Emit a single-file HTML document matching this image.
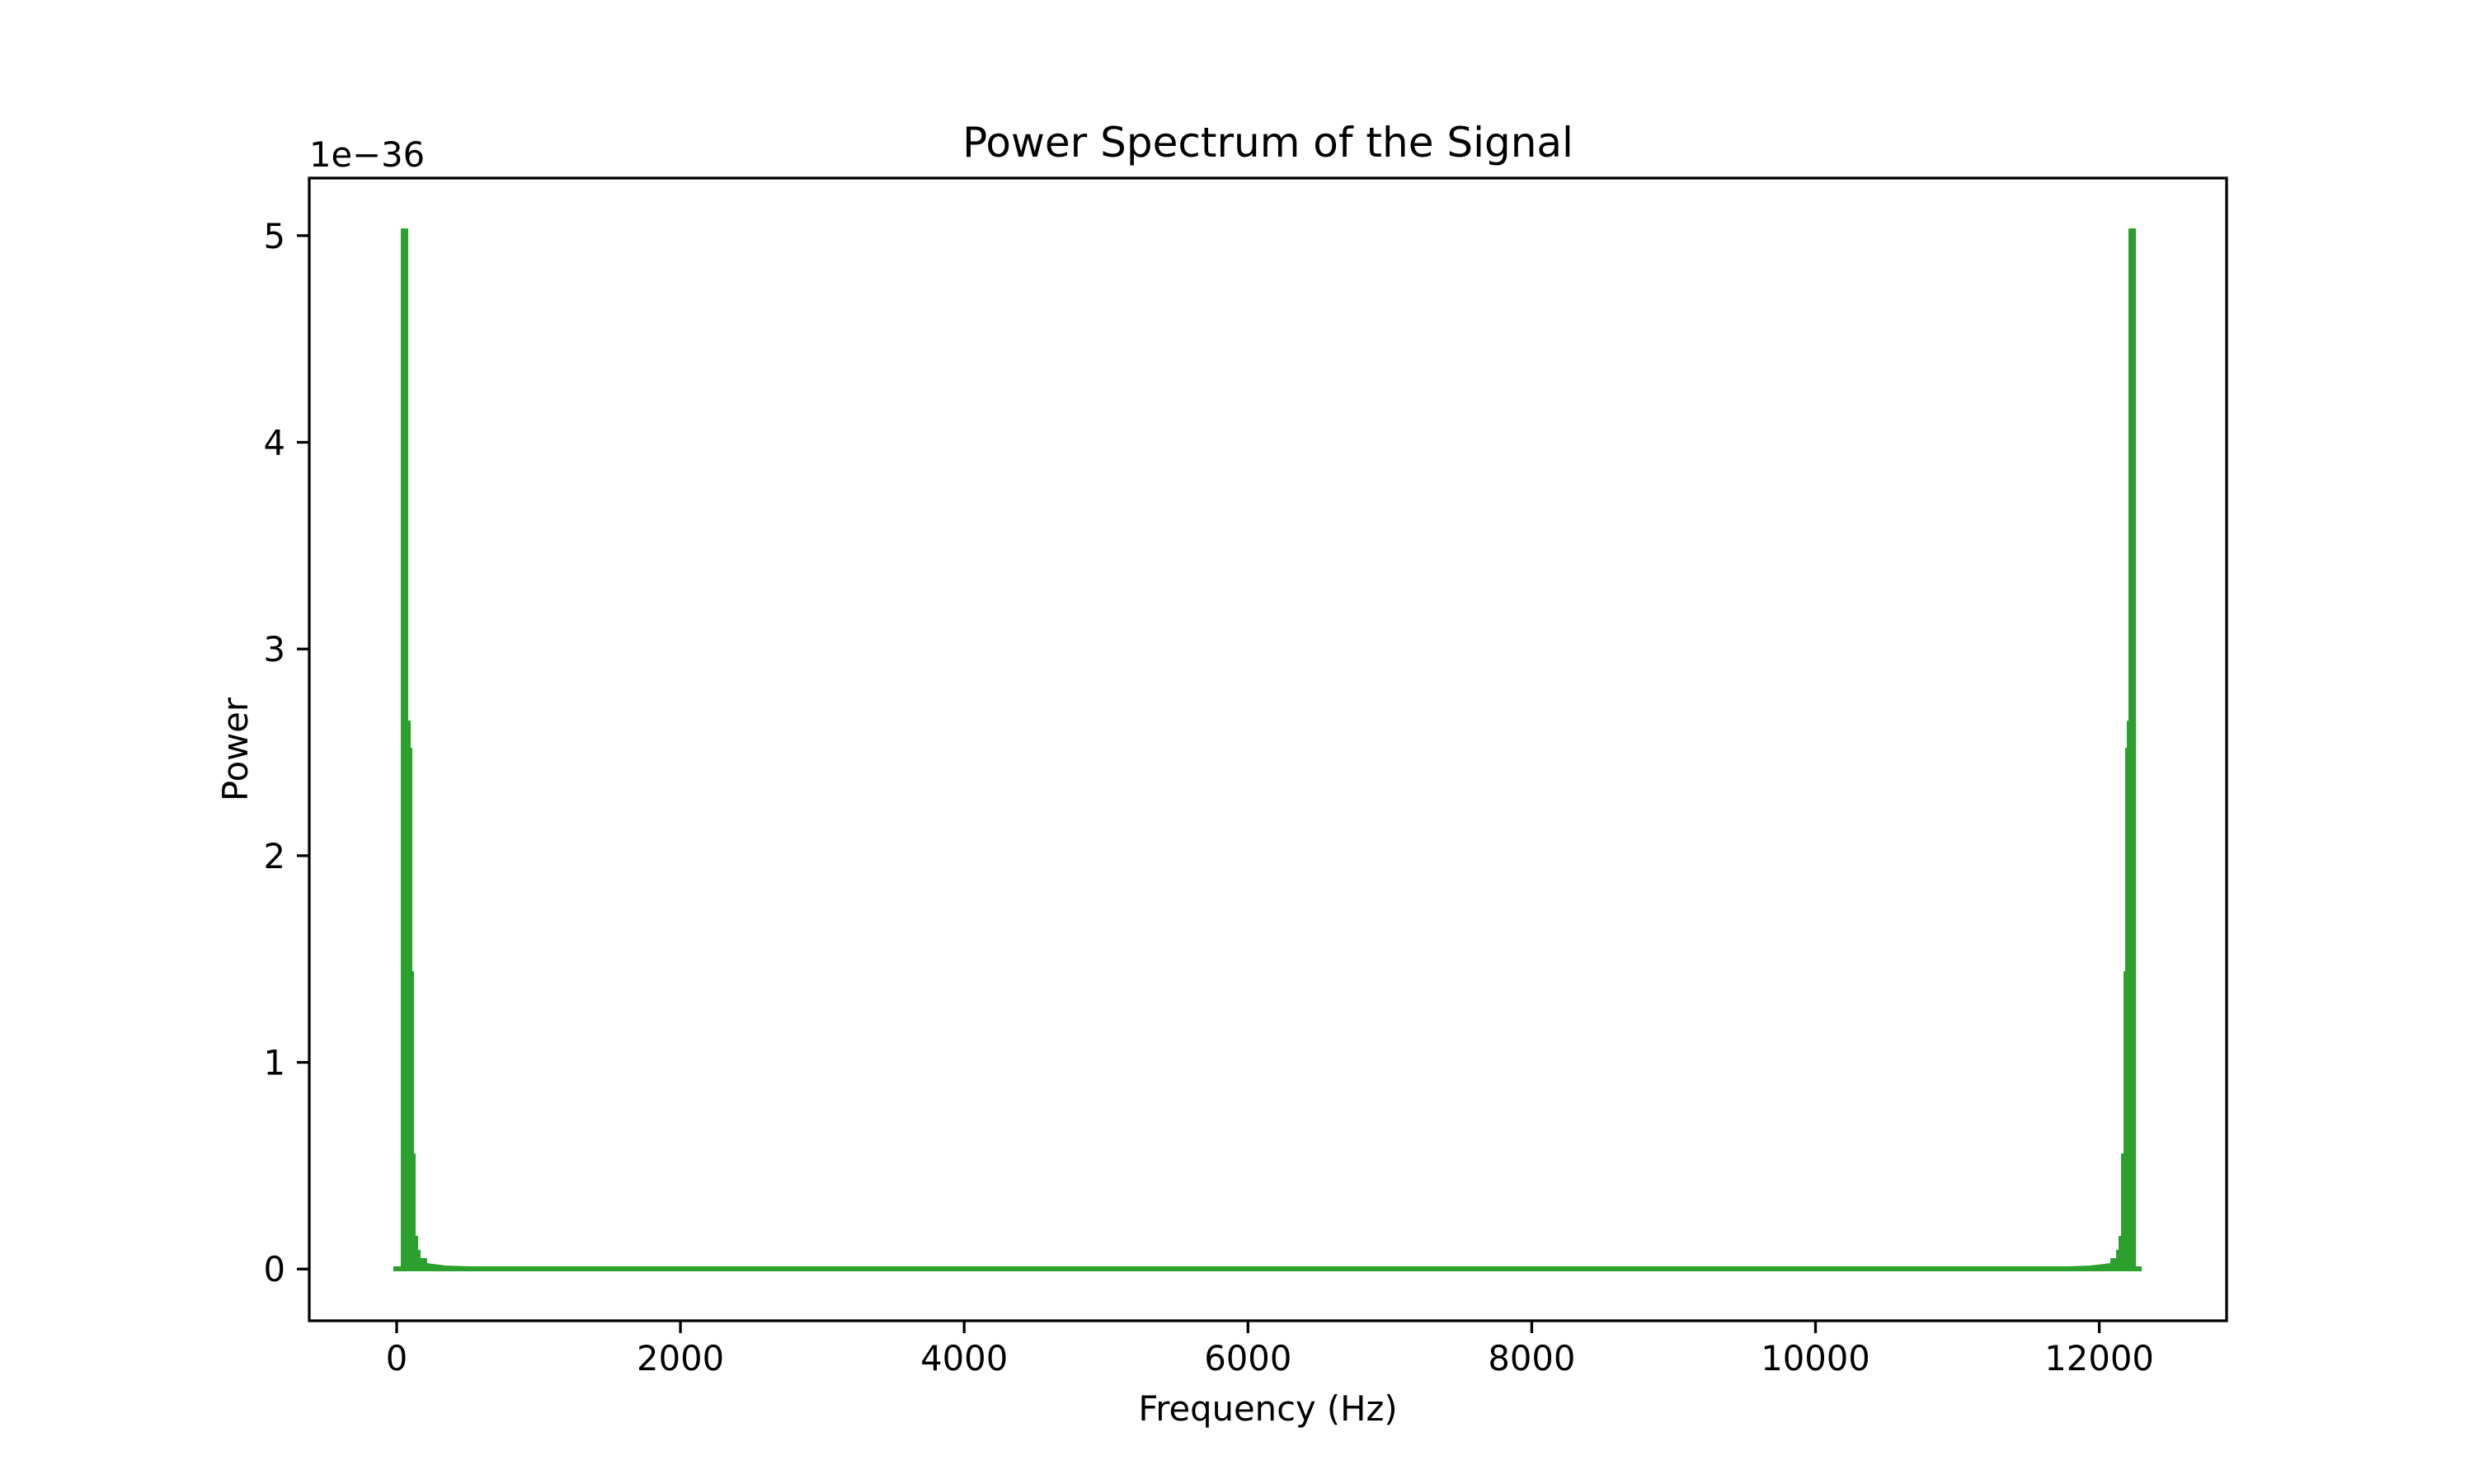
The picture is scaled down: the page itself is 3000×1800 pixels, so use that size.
<!DOCTYPE html>
<html><head><meta charset="utf-8"><style>html,body{margin:0;padding:0;background:#fff}svg{display:block}</style></head>
<body>
<svg width="3000" height="1800" viewBox="0 0 3000 1800" xmlns="http://www.w3.org/2000/svg" font-family="'DejaVu Sans','Liberation Sans',sans-serif">
<rect width="3000" height="1800" fill="#fff"/>
<g fill="#2ca02c" stroke="#2ca02c" stroke-width="2" stroke-linejoin="round">
<polygon points="486,1541 487,1535 487,278 494,278 494,875 497,875 497,908 499,908 499,1179 501,1179 501,1400 503,1400 503,1500 506,1500 506,1517 509,1517 509,1527 517,1527 517,1533 540,1536 600,1538 600,1541"/>
<polygon points="2590,1541 2589,1535 2589,278 2582,278 2582,875 2580,875 2580,908 2578,908 2578,1179 2576,1179 2576,1400 2573,1400 2573,1500 2570,1500 2570,1517 2567,1517 2567,1527 2560,1527 2560,1533 2535,1536 2480,1538 2480,1541"/>
</g>
<line x1="477" y1="1539" x2="2597" y2="1539" stroke="#2ca02c" stroke-width="6"/>
<rect x="375" y="216" width="2325" height="1386" fill="none" stroke="#000" stroke-width="3.3"/>
<g stroke="#000" stroke-width="3.3">
<line x1="481" y1="1602" x2="481" y2="1617"/>
<line x1="825.1" y1="1602" x2="825.1" y2="1617"/>
<line x1="1169.2" y1="1602" x2="1169.2" y2="1617"/>
<line x1="1513.3" y1="1602" x2="1513.3" y2="1617"/>
<line x1="1857.4" y1="1602" x2="1857.4" y2="1617"/>
<line x1="2201.5" y1="1602" x2="2201.5" y2="1617"/>
<line x1="2545.6" y1="1602" x2="2545.6" y2="1617"/>
<line x1="360" y1="1539.3" x2="375" y2="1539.3"/>
<line x1="360" y1="1288.6" x2="375" y2="1288.6"/>
<line x1="360" y1="1037.9" x2="375" y2="1037.9"/>
<line x1="360" y1="787.2" x2="375" y2="787.2"/>
<line x1="360" y1="536.5" x2="375" y2="536.5"/>
<line x1="360" y1="285.8" x2="375" y2="285.8"/>
</g>
<g font-size="41.7" fill="#000" text-anchor="middle">
<text x="481" y="1662">0</text>
<text x="825.1" y="1662">2000</text>
<text x="1169.2" y="1662">4000</text>
<text x="1513.3" y="1662">6000</text>
<text x="1857.4" y="1662">8000</text>
<text x="2201.5" y="1662">10000</text>
<text x="2545.6" y="1662">12000</text>
</g>
<g font-size="41.7" fill="#000" text-anchor="end">
<text x="346" y="1554">0</text>
<text x="346" y="1303.6">1</text>
<text x="346" y="1052.9">2</text>
<text x="346" y="802.2">3</text>
<text x="346" y="551.5">4</text>
<text x="346" y="300.8">5</text>
</g>
<text x="375" y="202" font-size="41.7">1e−36</text>
<text x="1537.5" y="190" font-size="50" text-anchor="middle">Power Spectrum of the Signal</text>
<text x="1537.5" y="1723" font-size="41.7" text-anchor="middle">Frequency (Hz)</text>
<text x="300" y="909" font-size="41.7" text-anchor="middle" transform="rotate(-90 300 909)">Power</text>
</svg>
</body></html>
